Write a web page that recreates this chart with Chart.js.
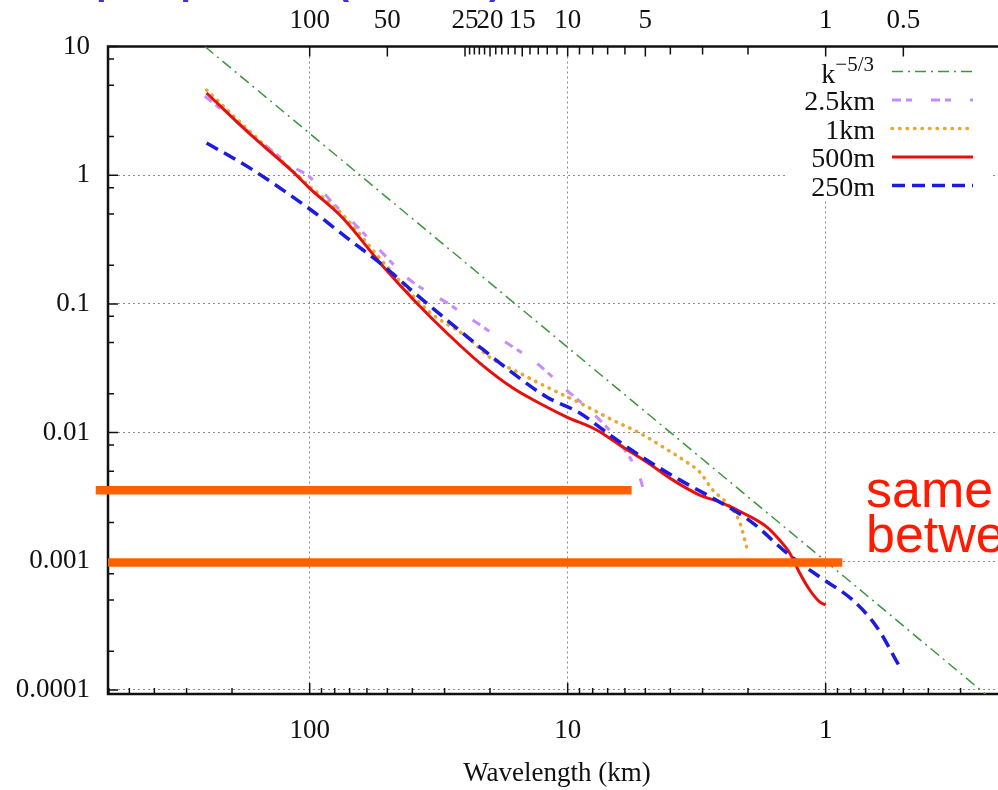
<!DOCTYPE html>
<html>
<head>
<meta charset="utf-8">
<script src="https://cdn.jsdelivr.net/npm/chart.js@4.4.0/dist/chart.umd.min.js"></script>
<style>
html, body { margin: 0; padding: 0; background: #fff; overflow: hidden; }
#wrap { width: 1040px; height: 790px; }
</style>
</head>
<body>
<div id="wrap"><canvas id="spec" width="1040" height="790"></canvas></div>
<script>
// wavelength (km) / spectral energy, one pair of arrays per run
var lamRef = [255, 1, 0.2];
var specRef = [10, 0.001, 0.0000684];

var lam25 = [255, 171, 116, 100, 81.4, 68.1, 55, 41, 29.4, 23.4, 17.2, 13.2, 10.1, 8.0, 6.29, 5.26, 5.12];
var spec25 = [4.12, 2.15, 1.16, 0.968, 0.608, 0.433, 0.277, 0.154, 0.102, 0.075, 0.0497, 0.0347, 0.0214, 0.0142, 0.00833, 0.00452, 0.00378];

var lam1 = [251, 171, 100, 75, 52, 34.3, 24.6, 20.1, 15.35, 12.06, 8.98, 6.69, 5.26, 4.28, 3.46, 3.08, 2.74, 2.42, 2.15, 2.01];
var spec1 = [4.59, 2.2, 0.82, 0.5, 0.212, 0.0865, 0.0554, 0.0386, 0.029, 0.0226, 0.017, 0.0125, 0.00993, 0.00773, 0.0059, 0.00494, 0.00358, 0.00284, 0.00199, 0.00122];

var lam500 = [251, 171, 116, 100, 75.2, 52.1, 38.5, 29.4, 21.9, 16.3, 12.06, 10.08, 7.72, 6.29, 4.94, 3.92, 3.08, 2.58, 2.02, 1.693, 1.508, 1.379, 1.261, 1.153, 1.055, 1.0];
var spec500 = [4.35, 2.1, 1.06, 0.79, 0.475, 0.197, 0.1016, 0.0594, 0.0347, 0.0222, 0.0158, 0.0132, 0.01047, 0.00801, 0.00591, 0.00429, 0.00327, 0.00289, 0.00229, 0.00185, 0.00146, 0.00116, 0.00081, 0.000598, 0.000484, 0.000457];

var lam250 = [251, 171, 100, 70, 52.1, 39.2, 29.4, 21.9, 16.3, 12.06, 8.98, 6.69, 4.94, 3.68, 2.58, 1.92, 1.416, 1.055, 0.786, 0.634, 0.516];
var spec250 = [1.78, 1.14, 0.546, 0.314, 0.2, 0.1216, 0.075, 0.0462, 0.029, 0.0189, 0.0142, 0.00924, 0.00612, 0.00429, 0.00289, 0.00199, 0.00116, 0.000755, 0.0005, 0.000309, 0.000151];

// highlight bars
var barLamA = [675, 5.65];
var barSpecA = [0.00356, 0.00356];
var barLamB = [605, 0.862];
var barSpecB = [0.00098, 0.00098];

// axis labels
var bottomLabels = [100, 10, 1];
var topLabels = [100, 50, 25, 20, 15, 10, 5, 1, 0.5];
var yDecades = [10, 1, 0.1, 0.01, 0.001, 0.0001];
var yLabels = ['10', '1', '0.1', '0.01', '0.001', '0.0001'];

function pts(xs, ys) {
  return xs.map(function (x, i) { return { x: x, y: ys[i] }; });
}
function isDecade(v) {
  var l = Math.log10(v);
  return Math.abs(l - Math.round(l)) < 1e-6;
}

// tick positions: integer steps on the bottom, 2/5/8 on the left, integer km on top
var bottomTicks = [];
[100, 10, 1, 0.1].forEach(function (d) {
  for (var m = 9; m >= 1; m--) {
    var v = m === 1 ? d : m * d;
    if (v <= 605 && v >= 0.2) bottomTicks.push(v);
  }
});
var yTicks = [];
yDecades.forEach(function (d) {
  yTicks.push(d);
  if (d > 0.0001) { yTicks.push(0.8 * d, 0.5 * d, 0.2 * d); }
});
var topTicks = [100, 50];
for (var k = 25; k >= 1; k--) topTicks.push(k);
topTicks.push(0.5);

var gridColor = '#8c8c8c';
var serif = 'Liberation Serif';

var framePlugin = {
  id: 'frame',
  beforeDatasetsDraw: function (chart) {
    var ctx = chart.ctx, a = chart.chartArea;
    var sx = chart.scales.x, sy = chart.scales.y, st = chart.scales.xTop;
    ctx.save();
    // key background hides the grid behind it
    ctx.fillStyle = '#fff';
    ctx.fillRect(787, 52, 203, 148);
    ctx.strokeStyle = '#111';
    ctx.lineWidth = 1.5;
    ctx.beginPath();
    bottomTicks.forEach(function (v) {
      var px = sx.getPixelForValue(v), len = isDecade(v) ? 11 : 6;
      ctx.moveTo(px, a.bottom); ctx.lineTo(px, a.bottom - len);
    });
    yTicks.forEach(function (v) {
      var py = sy.getPixelForValue(v), len = isDecade(v) ? 10 : 6;
      ctx.moveTo(a.left, py); ctx.lineTo(a.left + len, py);
    });
    topTicks.forEach(function (v) {
      var px = st.getPixelForValue(v), len = topLabels.indexOf(v) >= 0 ? 10 : 8;
      ctx.moveTo(px, a.top); ctx.lineTo(px, a.top + len);
    });
    ctx.stroke();
    ctx.lineWidth = 2.5;
    ctx.strokeRect(a.left, a.top, a.right - a.left, a.bottom - a.top);
    ctx.restore();
  },
  afterDatasetsDraw: function (chart) {
    var ctx = chart.ctx;
    ctx.save();
    // key: text right-aligned, line sample to the right
    var rows = [71.5, 100, 128.5, 157, 185.5];
    chart.data.datasets.slice(0, 5).forEach(function (ds, i) {
      var y = rows[i];
      ctx.fillStyle = '#111';
      ctx.textAlign = 'right';
      ctx.textBaseline = 'alphabetic';
      if (i === 0) {
        ctx.font = '21px "' + serif + '"';
        ctx.fillText('\u22125/3', 874, y - 1);
        var w = ctx.measureText('\u22125/3').width;
        ctx.font = '28px "' + serif + '"';
        ctx.fillText('k', 874 - w, y + 11);
      } else {
        ctx.font = '28px "' + serif + '"';
        ctx.fillText(ds.label, 875, y + 10);
      }
      ctx.strokeStyle = ds.borderColor;
      ctx.lineWidth = ds.borderWidth;
      ctx.lineCap = ds.borderCapStyle || 'butt';
      ctx.setLineDash(ds.borderDash || []);
      ctx.beginPath();
      ctx.moveTo(892, y);
      ctx.lineTo(973, y);
      ctx.stroke();
      ctx.setLineDash([]);
    });
    ctx.restore();
  },
  afterDraw: function (chart) {
    var ctx = chart.ctx;
    ctx.save();
    ctx.textAlign = 'left';
    ctx.textBaseline = 'alphabetic';
    ctx.fillStyle = '#3535dc';
    ctx.font = 'bold 37px "Liberation Sans"';
    ctx.fillText('Sample spectrum (300 hPa)', 18, -6);
    ctx.fillStyle = '#ff1a00';
    ctx.font = '52px "Liberation Sans"';
    ctx.fillText('same', 866, 507);
    ctx.fillText('between', 866, 552);
    ctx.restore();
  }
};

var tickFont = { family: serif, size: 27 };

var ctx = document.getElementById('spec').getContext('2d');
var chart = new Chart(ctx, {
  type: 'line',
  data: {
    datasets: [
      { label: 'k-5/3', data: pts(lamRef, specRef), borderColor: '#3c963c', borderWidth: 1.5,
        borderDash: [11, 5, 2, 5], tension: 0, order: 5 },
      { label: '2.5km', data: pts(lam25, spec25), borderColor: '#c48cff', borderWidth: 3,
        borderDash: [9, 5, 6, 19], cubicInterpolationMode: 'monotone', order: 4 },
      { label: '1km', data: pts(lam1, spec1), borderColor: '#e8a830', borderWidth: 3.5,
        borderDash: [0.5, 7], borderCapStyle: 'round', cubicInterpolationMode: 'monotone', order: 3 },
      { label: '500m', data: pts(lam500, spec500), borderColor: '#e8100c', borderWidth: 3,
        cubicInterpolationMode: 'monotone', order: 2 },
      { label: '250m', data: pts(lam250, spec250), borderColor: '#1c1ce0', borderWidth: 3.5,
        borderDash: [13, 7], cubicInterpolationMode: 'monotone', order: 1 },
      { label: 'barA', data: pts(barLamA, barSpecA), borderColor: '#ff6000', borderWidth: 8.5,
        clip: false, tension: 0, order: 0 },
      { label: 'barB', data: pts(barLamB, barSpecB), borderColor: '#ff6000', borderWidth: 8.5,
        clip: false, tension: 0, order: 0 }
    ]
  },
  options: {
    responsive: false,
    animation: false,
    events: [],
    layout: { padding: { left: 0, right: 34, top: 0, bottom: 0 } },
    elements: { point: { radius: 0 }, line: { fill: false } },
    plugins: { legend: { display: false }, tooltip: { enabled: false } },
    scales: {
      x: {
        type: 'logarithmic', position: 'bottom', reverse: true, min: 0.2, max: 605,
        afterBuildTicks: function (s) { s.ticks = bottomTicks.map(function (v) { return { value: v }; }); },
        afterFit: function (s) { s.height = 96; },
        ticks: {
          autoSkip: false, maxRotation: 0, minRotation: 0, padding: 21, color: '#111', font: tickFont,
          callback: function (v) { return bottomLabels.indexOf(v) >= 0 ? String(v) : ''; }
        },
        grid: {
          drawTicks: false, lineWidth: 1,
          color: function (c) { return c.tick && isDecade(c.tick.value) ? gridColor : 'rgba(0,0,0,0)'; }
        },
        border: { display: false, dash: [2, 3] },
        title: { display: true, text: 'Wavelength (km)', color: '#111', font: tickFont, padding: { top: 0, bottom: 0 } }
      },
      xTop: {
        type: 'logarithmic', position: 'top', reverse: true, min: 0.2, max: 605,
        afterBuildTicks: function (s) { s.ticks = topTicks.map(function (v) { return { value: v }; }); },
        afterFit: function (s) { s.height = 46.5; },
        ticks: {
          autoSkip: false, maxRotation: 0, minRotation: 0, padding: 9, color: '#111', font: tickFont,
          callback: function (v) { return topLabels.indexOf(v) >= 0 ? String(v) : ''; }
        },
        grid: { display: false, drawTicks: false },
        border: { display: false }
      },
      y: {
        type: 'logarithmic', position: 'left', min: 0.000093, max: 10,
        afterBuildTicks: function (s) { s.ticks = yTicks.map(function (v) { return { value: v }; }); },
        afterFit: function (s) { s.width = 108; },
        ticks: {
          autoSkip: false, padding: 18, color: '#111', font: tickFont,
          callback: function (v) { var i = yDecades.indexOf(v); return i >= 0 ? yLabels[i] : ''; }
        },
        grid: {
          drawTicks: false, lineWidth: 1,
          color: function (c) { return c.tick && isDecade(c.tick.value) ? gridColor : 'rgba(0,0,0,0)'; }
        },
        border: { display: false, dash: [2, 3] }
      }
    }
  },
  plugins: [framePlugin]
});
</script>
</body>
</html>
